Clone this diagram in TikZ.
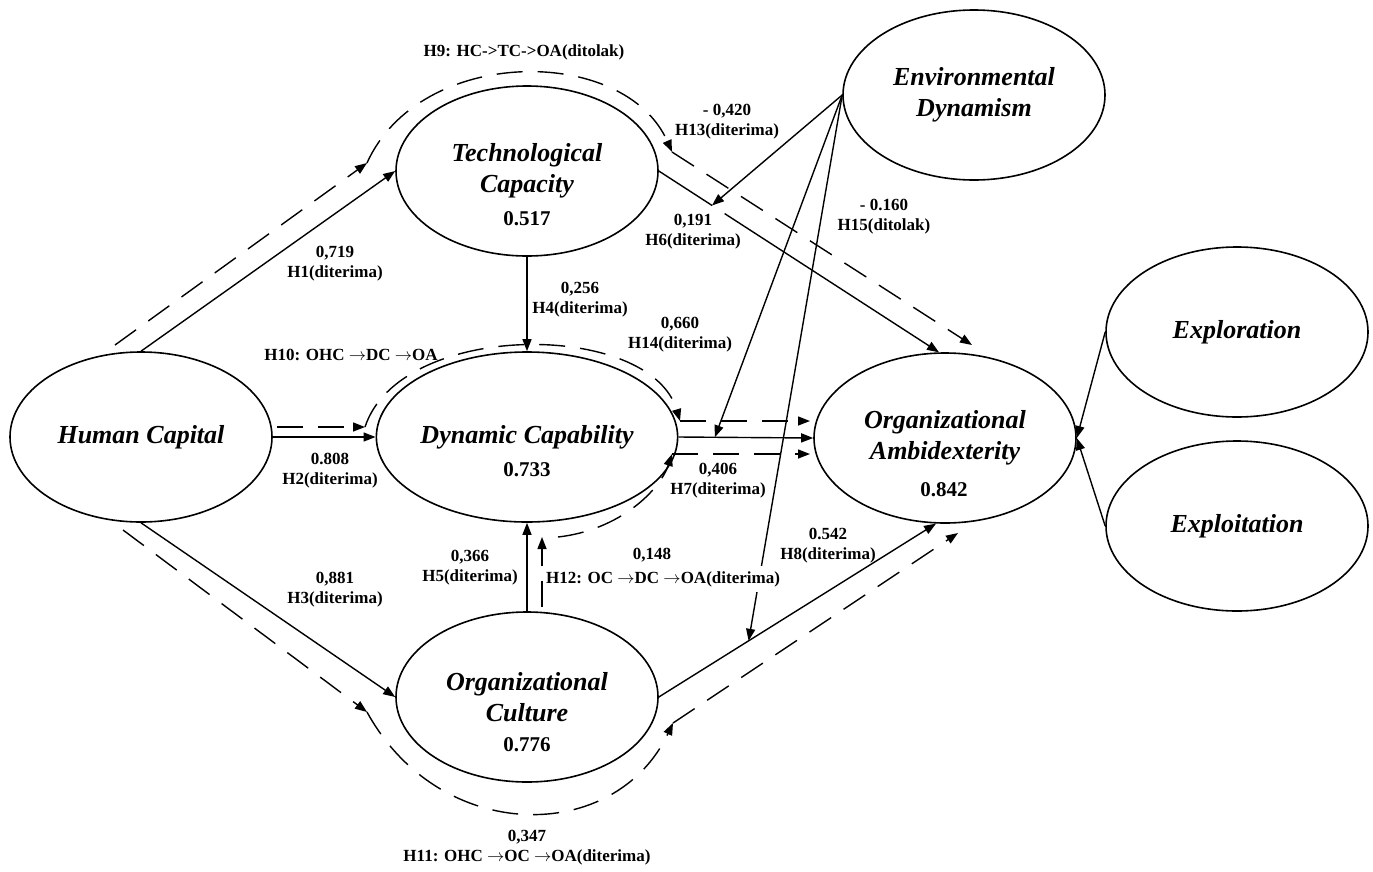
\documentclass[tikz,border=0pt]{standalone}
\usepackage{fontspec}
\setmainfont{Liberation Serif}
\usetikzlibrary{shapes.geometric,arrows.meta,calc}
\newcommand{\ra}{$\rightarrow$}

\begin{document}
\begin{tikzpicture}[x=1pt,y=-1pt,
  latent/.style={ellipse,draw,line width=1.6pt,minimum width=262pt,minimum height=170pt,
    inner sep=0pt,align=center,font=\fontsize{26}{31}\selectfont\bfseries\itshape},
  val/.style={font=\fontsize{21}{25}\selectfont\bfseries,inner sep=0pt},
  lbl/.style={font=\fontsize{17}{20}\selectfont\bfseries,align=center,inner sep=1pt},
  arr/.style={line width=1.4pt,-{Triangle[length=12pt,width=9pt]}},
  plain/.style={line width=1.4pt},
  med/.style={arr,dash pattern=on 26pt off 15pt}]

\useasboundingbox (0,0) rectangle (1373,871);

% latent constructs
\node[latent] (hc)  at (141,437)  {Human Capital};
\node[latent] (tc)  at (527,171)  {Technological\\Capacity};
\node[latent] (dc)  at (527,437)  {Dynamic Capability};
\node[latent] (oc)  at (527,697)  {Organizational\\Culture};
\node[latent] (oa)  at (945,438)  {Organizational\\Ambidexterity};
\node[latent] (ed)  at (974,95)   {Environmental\\Dynamism};
\node[latent] (exr) at (1237,332) {Exploration};
\node[latent] (ext) at (1237,526) {Exploitation};

% R-square values
\node[val] (tc-v) at (527,219) {0.517};
\node[val] (dc-v) at (527,470) {0.733};
\node[val] (oc-v) at (527,745) {0.776};
\node[val] (oa-v) at (944,490) {0.842};

% points on paths hit by the moderator
\coordinate (m6)  at ($(tc.east)!0.19!(oa.94)$);
\coordinate (m6b) at ($(tc.east)!0.235!(oa.94)$);
\coordinate (m7)  at ($(dc.east)!0.27!(oa.west)$);
\coordinate (m8)  at ($(oc.east)!0.324!(oa.264)$);

% direct effects
\draw[arr] (hc.north) -- (tc.west);
\draw[arr] (hc.east) -- (dc.west);
\draw[arr] (hc.south) -- (oc.west);
\draw[arr] (tc.south) -- (dc.north);
\draw[arr] (oc.north) -- (dc.south);
\draw[arr] (dc.east) -- (oa.west);
\draw[arr] (oc.east) -- (oa.264);
\draw[plain] (tc.east) -- (m6);
\draw[arr] (m6b) -- (oa.94);

% moderation by environmental dynamism
\draw[arr] (ed.west) -- (m6);
\draw[arr] (ed.west) -- (m7);
\draw[arr] (ed.west) -- (m8);

% dimensions of ambidexterity
\draw[arr] (exr.west) -- (oa.east);
\draw[arr] (ext.west) -- (oa.east);

% mediation routes (dashed)
\coordinate (h9a) at (115,345);
\coordinate (h9b) at (367,163);
\coordinate (h9c) at (672,152);
\coordinate (h9d) at (972,345);
\draw[med] (h9a) -- (h9b);
\draw[med] (h9b) .. controls (420,45) and (625,45) .. (h9c);
\draw[med] (h9c) -- (h9d);

\coordinate (h10a) at (277,427);
\coordinate (h10b) at (365,427);
\coordinate (h10c) at (680,421);
\coordinate (h10d) at (810,421);
\draw[med] (h10a) -- (h10b);
\draw[med] (h10b) .. controls (400,320) and (650,320) .. (h10c);
\draw[med] (h10c) -- (h10d);

\coordinate (h11a) at (123,530);
\coordinate (h11b) at (367,712);
\coordinate (h11c) at (673,723);
\coordinate (h11d) at (958,533);
\draw[med] (h11a) -- (h11b);
\draw[med] (h11b) .. controls (440,845) and (615,845) .. (h11c);
\draw[med] (h11c) -- (h11d);

\coordinate (h12a) at (542,607);
\coordinate (h12b) at (542,537);
\coordinate (h12c) at (558,537);
\coordinate (h12d) at (672,454);
\coordinate (h12e) at (810,454);
\draw[med] (h12a) -- (h12b);
\draw[med] (h12c) .. controls (620,530) and (660,490) .. (h12d);
\draw[med] (h12d) -- (h12e);

% path labels
\node[lbl] (l9)  at (524,52)  {H9: HC->TC->OA(ditolak)};
\node[lbl] (l13) at (727,122) {- 0,420\\H13(diterima)};
\node[lbl] (l6)  at (693,232) {0,191\\H6(diterima)};
\node[lbl] (l15) at (884,217) {- 0.160\\H15(ditolak)};
\node[lbl] (l1)  at (335,264) {0,719\\H1(diterima)};
\node[lbl] (l4)  at (580,300) {0,256\\H4(diterima)};
\node[lbl] (l14) at (680,335) {0,660\\H14(diterima)};
\node[lbl] (l10) at (351,355) {H10: OHC \ra DC \ra OA};
\node[lbl] (l2)  at (330,471) {0.808\\H2(diterima)};
\node[lbl] (l7)  at (718,481) {0,406\\H7(diterima)};
\node[lbl] (l8)  at (828,546) {0.542\\H8(diterima)};
\node[lbl] (l5)  at (470,568) {0,366\\H5(diterima)};
\node[lbl] (l12a) at (652,555) {0,148};
\node[lbl,fill=white,inner xsep=1pt,inner ysep=5pt] (l12) at (663,579) {H12: OC \ra DC \ra OA(diterima)};
\node[lbl] (l3)  at (335,590) {0,881\\H3(diterima)};
\node[lbl] (l11) at (527,848) {0,347\\H11: OHC \ra OC \ra OA(diterima)};
\end{tikzpicture}
\end{document}
